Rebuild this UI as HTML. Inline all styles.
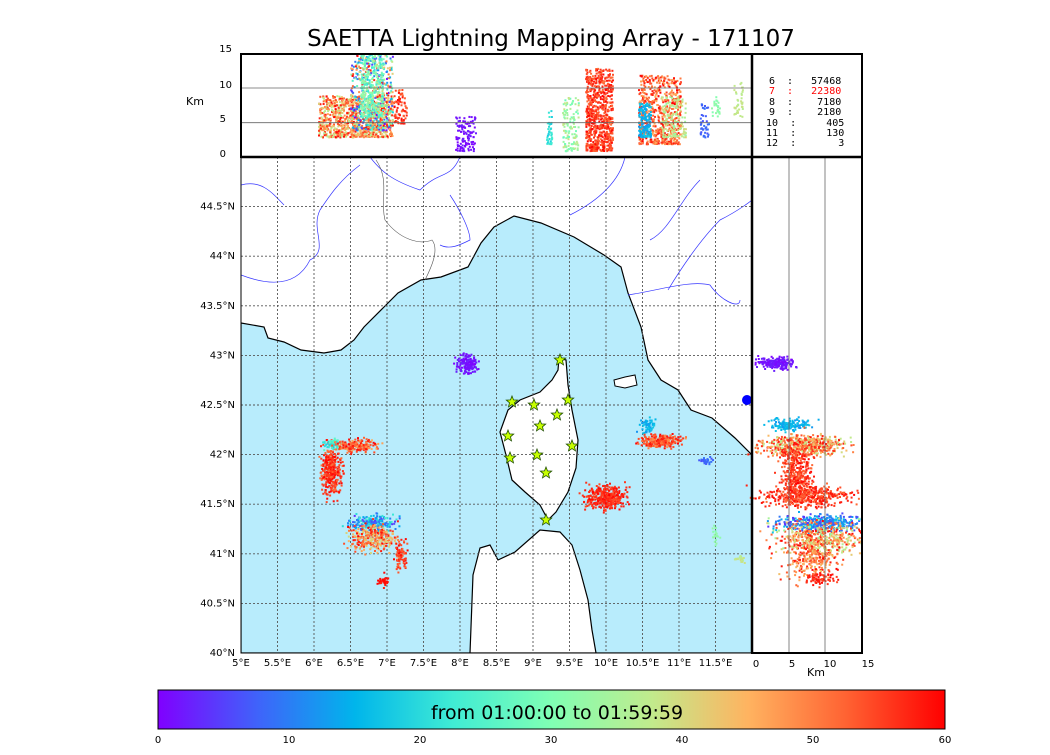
<!DOCTYPE html>
<html><head><meta charset="utf-8"><style>
body{margin:0;background:#fff;width:1050px;height:750px;overflow:hidden}
svg text{font-family:"DejaVu Sans","Liberation Sans",sans-serif}
.mono text{font-family:"DejaVu Sans Mono","Liberation Mono",monospace;white-space:pre}
</style></head><body>
<svg id="s" width="1050" height="750" xmlns="http://www.w3.org/2000/svg">
<defs>
<linearGradient id="rb" x1="0" x2="1" y1="0" y2="0">
<stop offset="0" stop-color="#8000ff"/><stop offset="0.125" stop-color="#4062fa"/><stop offset="0.25" stop-color="#00b5eb"/><stop offset="0.375" stop-color="#40ecd4"/><stop offset="0.5" stop-color="#80ffb4"/><stop offset="0.625" stop-color="#c0eb8d"/><stop offset="0.75" stop-color="#ffb360"/><stop offset="0.875" stop-color="#ff6232"/><stop offset="1" stop-color="#ff0000"/>
</linearGradient>
<clipPath id="cm"><rect x="241" y="157" width="511" height="496"/></clipPath>
<clipPath id="call"><rect x="241" y="54" width="621" height="599"/></clipPath>
</defs>
<text x="551" y="46" font-size="23" text-anchor="middle">SAETTA Lightning Mapping Array - 171107</text>
<g clip-path="url(#cm)">
<rect x="241" y="157" width="511" height="496" fill="#fff"/>
<polygon fill="#b8ecfc" stroke="#000" stroke-width="1.2" points="241,323 264,327 268,338 284,342 301,350 324,353 341,350 354,340 364,327 384,307 398,293 421,280 441,277 468,267 481,243 494,227 514,216 541,223 574,237 604,255 621,267 628,293 641,327 648,360 661,380 678,390 691,410 712,418 735,438 752,455 752,653 241,653"/>
<polygon fill="#fff" stroke="#000" stroke-width="1.2" points="470,653 473,575 480,548 490,545 498,560 515,552 540,530 560,532 572,545 580,570 588,600 592,630 596,653"/>
<polygon fill="#fff" stroke="#000" stroke-width="1.2" points="559,358 566,360 568,385 572,410 578,440 576,468 568,492 556,512 548,520 540,505 525,492 512,480 506,455 500,432 508,410 520,400 540,392 552,380 558,370"/>
<polygon fill="#fff" stroke="#000" stroke-width="1" points="614,380 625,377 635,375 637,385 625,388 615,386"/>
<g fill="none" stroke="#3535ff" stroke-width="0.7">
<path d="M241,185 C260,180 270,190 284,205"/>
<path d="M241,275 C280,290 300,280 310,260 C330,250 310,230 320,210 C330,195 340,180 360,165"/>
<path d="M370,157 C380,170 390,180 420,190 C440,170 450,180 460,157"/>
<path d="M450,195 C460,210 470,230 470,240 C460,245 450,250 440,245"/>
<path d="M570,215 C600,200 620,180 625,157"/>
<path d="M650,240 C670,230 680,200 700,180"/>
<path d="M668,290 C680,270 700,240 720,220 C740,210 752,200 752,200"/>
<path d="M628,295 C660,290 690,280 710,285 C720,300 740,310 740,300"/>
</g>
<path d="M376,160 C390,180 380,200 385,220 C400,240 420,245 432,240 C440,250 430,270 425,280" fill="none" stroke="#555" stroke-width="0.6"/>
<g stroke="#555" stroke-width="0.9" stroke-dasharray="2,2" id="grid"></g>
</g>
<g id="dots" clip-path="url(#call)"></g>
<g id="stars"></g>
<circle cx="747" cy="400" r="5" fill="#0000ff"/>
<rect x="241" y="157" width="511" height="496" fill="none" stroke="#000" stroke-width="1"/>
<line x1="241" y1="88" x2="752" y2="88" stroke="#666" stroke-width="0.8"/>
<line x1="241" y1="122.7" x2="752" y2="122.7" stroke="#666" stroke-width="0.8"/>
<line x1="789" y1="157" x2="789" y2="653" stroke="#666" stroke-width="0.8"/>
<line x1="825" y1="157" x2="825" y2="653" stroke="#666" stroke-width="0.8"/>
<rect x="241" y="54" width="621" height="103" fill="none" stroke="#000" stroke-width="2"/>
<rect x="752" y="54" width="110" height="599" fill="none" stroke="#000" stroke-width="2"/>
<line x1="241" y1="157" x2="862" y2="157" stroke="#000" stroke-width="2.5"/>
<line x1="752" y1="54" x2="752" y2="653" stroke="#000" stroke-width="2.5"/>
<g font-size="10" text-anchor="end">
<text x="232" y="52">15</text><text x="232" y="88">10</text><text x="226" y="122">5</text><text x="226" y="157">0</text>
</g>
<text x="186" y="105" font-size="11">Km</text>
<g font-size="10" class="mono" xml:space="preserve">
<text x="769" y="84">6  :   57468</text>
<text x="769" y="94" fill="#f00">7  :   22380</text>
<text x="769" y="105">8  :    7180</text>
<text x="769" y="115">9  :    2180</text>
<text x="766" y="126">10  :     405</text>
<text x="766" y="136">11  :     130</text>
<text x="766" y="146">12  :       3</text>
</g>
<g font-size="10" text-anchor="end" id="latl"></g>
<g font-size="10" text-anchor="middle" id="lonl"></g>
<g font-size="10" text-anchor="middle">
<text x="756" y="667">0</text><text x="792" y="667">5</text><text x="830" y="667">10</text><text x="868" y="667">15</text>
</g>
<text x="807" y="676" font-size="11">Km</text>
<rect x="158" y="690" width="787" height="39" fill="url(#rb)" stroke="#000" stroke-width="1"/>
<text x="557" y="719" font-size="19" text-anchor="middle">from 01:00:00 to 01:59:59</text>
<g font-size="10" text-anchor="middle">
<text x="158" y="743">0</text><text x="289" y="743">10</text><text x="420" y="743">20</text><text x="551" y="743">30</text><text x="682" y="743">40</text><text x="813" y="743">50</text><text x="945" y="743">60</text>
</g>
</svg>
<script>
var NS="http://www.w3.org/2000/svg";
function el(p,t,a,txt){var e=document.createElementNS(NS,t);for(var k in a)e.setAttribute(k,a[k]);if(txt!=null)e.textContent=txt;p.appendChild(e);return e;}
var g=document.getElementById('grid');
for(var i=1;i<14;i++){var x=241+36.5*i;el(g,'line',{x1:x,y1:157,x2:x,y2:653});}
for(var i=1;i<10;i++){var y=653-49.6*i;el(g,'line',{x1:241,y1:y,x2:752,y2:y});}
var ll=document.getElementById('latl'),lats=['40°N','40.5°N','41°N','41.5°N','42°N','42.5°N','43°N','43.5°N','44°N','44.5°N'];
for(var i=0;i<10;i++)el(ll,'text',{x:235,y:656-49.6*i},lats[i]);
var lo=document.getElementById('lonl');
for(var i=0;i<14;i++){var v=5+i*0.5;el(lo,'text',{x:241+36.5*i,y:666},(v%1?v.toFixed(1):v)+'°E');}
var seed=7;function r(){seed=(seed*16807)%2147483647;return seed/2147483647;}
function gn(){return (r()+r()+r()-1.5)/0.5;}
var stops=[[128,0,255],[64,98,250],[0,181,235],[64,236,212],[128,255,180],[192,235,141],[255,179,96],[255,98,50],[255,0,0]];
function col(t){t=Math.max(0,Math.min(1,t))*8;var i=Math.min(7,Math.floor(t)),f=t-i,a=stops[i],b=stops[i+1];return 'rgb('+[0,1,2].map(function(k){return Math.round(a[k]+(b[k]-a[k])*f)}).join(',')+')';}
var d=document.getElementById('dots');
function cl(cx,cy,rx,ry,n,t0,t1){for(var i=0;i<n;i++){var t=t0+(t1-t0)*r();el(d,'rect',{x:(cx+gn()*rx).toFixed(1),y:(cy+gn()*ry).toFixed(1),width:2,height:2,fill:col(t)});}}
cl(466,363,5,4,150,0,0.05);
cl(330,470,5,12,350,0.85,1);cl(332,443,4,3,60,0.3,0.45);
cl(355,445,10,3,200,0.75,1);
cl(372,522,12,4,200,0.05,0.4);cl(372,537,11,7,300,0.65,1);
cl(400,555,3,7,80,0.85,1);cl(383,580,3,3,30,0.95,1);
cl(605,497,10,6,400,0.9,1);
cl(647,425,4,4,60,0.2,0.3);cl(660,440,10,3,250,0.8,1);
cl(705,460,3,2,30,0.1,0.15);cl(715,535,2,4,20,0.5,0.55);cl(738,558,3,2,20,0.6,0.65);
cl(775,362,8,3,200,0,0.05);
cl(790,424,10,3,150,0.2,0.3);cl(805,445,22,5,500,0.6,1);cl(795,470,8,16,400,0.85,1);
cl(805,496,22,5,400,0.85,1);
cl(820,522,20,4,400,0.05,0.3);cl(820,538,22,8,500,0.55,1);cl(810,560,14,10,250,0.7,1);cl(820,578,8,3,60,0.9,1);
function tp(x0,x1,a0,a1,n,t0,t1){for(var i=0;i<n;i++){var x=x0+(x1-x0)*r(),a=a0+(a1-a0)*Math.pow(r(),1.3);el(d,'rect',{x:x.toFixed(1),y:(157-a*6.87).toFixed(1),width:2,height:2,fill:col(t0+(t1-t0)*r())});}}
tp(318,392,3,9,900,0.6,1);tp(350,392,4,15,500,0,1);tp(360,382,6,15,300,0.35,0.6);tp(393,406,5,10,80,0.85,1);
tp(455,475,1,6,120,0,0.05);tp(546,552,2,7,40,0.3,0.4);tp(562,578,1,9,120,0.45,0.65);
tp(585,612,1,13,700,0.85,1);tp(638,680,2,12,600,0.75,1);tp(638,650,3,8,150,0.2,0.3);tp(660,685,3,9,150,0.55,0.7);
tp(699,708,3,8,40,0.1,0.15);tp(711,719,6,9,25,0.5,0.55);tp(733,742,6,11,40,0.6,0.65);
var st=document.getElementById('stars'),pts=[[512,402],[534,405],[568,400],[557,415],[540,426],[508,436],[510,458],[537,455],[572,446],[546,473],[546,520],[560,360]];
pts.forEach(function(p){var q=[];for(var k=0;k<10;k++){var a=-Math.PI/2+k*Math.PI/5,R=k%2?2.6:6;q.push((p[0]+R*Math.cos(a)).toFixed(1)+','+(p[1]+R*Math.sin(a)).toFixed(1));}el(st,'polygon',{points:q.join(' '),fill:'#c8ff00',stroke:'#205000','stroke-width':0.8});});
</script>
</body></html>
